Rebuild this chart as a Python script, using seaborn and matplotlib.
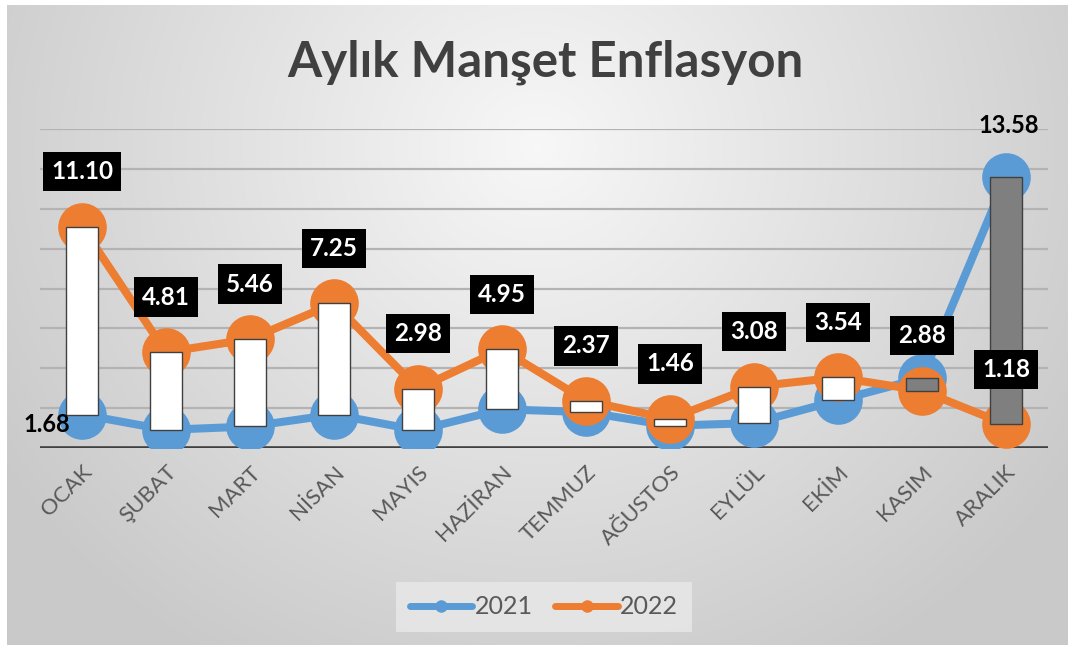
import numpy as np
import pandas as pd
import matplotlib
matplotlib.use("Agg")
import matplotlib.pyplot as plt
from matplotlib.lines import Line2D
import seaborn as sns

months = ["OCAK", "ŞUBAT", "MART", "NİSAN", "MAYIS", "HAZİRAN", "TEMMUZ",
          "AĞUSTOS", "EYLÜL", "EKİM", "KASIM", "ARALIK"]
infl_2021 = [1.68, 0.91, 1.08, 1.68, 0.89, 1.94, 1.80, 1.12, 1.25, 2.39, 3.51, 13.58]
infl_2022 = [11.10, 4.81, 5.46, 7.25, 2.98, 4.95, 2.37, 1.46, 3.08, 3.54, 2.88, 1.18]
years = ["2021", "2022"]
colors = {"2021": "#5B9BD5", "2022": "#ED7D31"}

sns.set_theme(style="white")
plt.rcParams["font.family"] = ["Lato", "DejaVu Sans"]

W, H = 1072, 649
fig = plt.figure(figsize=(W / 100, H / 100), dpi=100)
fig.patch.set_facecolor("white")

# background gradient panel
bx0, by0, bx1, by1 = 7, 5, 1068, 645
bg = fig.add_axes([bx0 / W, 1 - by1 / H, (bx1 - bx0) / W, (by1 - by0) / H])
gy, gx = np.mgrid[0:1:300j, 0:1:500j]
r = np.sqrt(((gx - 0.5) / 0.5) ** 2 + ((gy - 0.22) / 0.78) ** 2)
c = 0.97 - 0.15 * np.clip(r, 0, 1.2)
bg.imshow(np.dstack([c, c, c]), aspect="auto", extent=[0, 1, 1, 0], interpolation="bilinear")
bg.set_axis_off()

# main axes
px0, px1, py_top, py_bot = 40, 1048, 129, 448
ax = fig.add_axes([px0 / W, 1 - py_bot / H, (px1 - px0) / W, (py_bot - py_top) / H])
ax.set_facecolor("none")
ax.set_xlim(-0.5, 11.5)
ax.set_ylim(0, 16)

for gv in range(2, 17, 2):
    ax.axhline(gv, color="#b3b3b3", lw=1.6, zorder=1)
ax.axhline(0, color="#404040", lw=2.6, zorder=2)

df = pd.DataFrame({
    "month": list(range(12)) * 2,
    "value": infl_2021 + infl_2022,
    "year": ["2021"] * 12 + ["2022"] * 12,
})
sns.lineplot(data=df, x="month", y="value", hue="year", palette=colors,
             marker="o", markersize=35, markeredgewidth=0, linewidth=5.8,
             legend=False, ax=ax, zorder=3)

# up/down bars
lo = np.minimum(infl_2021, infl_2022)
hi = np.maximum(infl_2021, infl_2022)
bar_cols = ["white" if b > a else "#7f7f7f" for a, b in zip(infl_2021, infl_2022)]
ax.bar(range(12), hi - lo, bottom=lo, width=0.38, color=bar_cols,
       edgecolor="#404040", linewidth=1.0, zorder=5)

# labels for 2022
for i, v in enumerate(infl_2022):
    ax.annotate(f"{v:.2f}", (i, v), xytext=(0, 55), textcoords="offset pixels",
                ha="center", va="center", fontsize=17.5, fontweight="bold", color="white",
                bbox=dict(boxstyle="square,pad=0.34", fc="black", ec="none"),
                zorder=6, annotation_clip=False)
# labels for 2021 (first and last)
ax.annotate(f"{infl_2021[0]:.2f}", (0, infl_2021[0]), xytext=(-12, -10), textcoords="offset pixels",
            ha="right", va="center", fontsize=17, fontweight="bold", color="black",
            zorder=6, annotation_clip=False)
ax.annotate(f"{infl_2021[11]:.2f}", (11, infl_2021[11]), xytext=(3, 52), textcoords="offset pixels",
            ha="center", va="center", fontsize=17, fontweight="bold", color="black",
            zorder=6, annotation_clip=False)

ax.set_xticks(range(12))
ax.set_xticklabels(months, rotation=45, ha="right", rotation_mode="anchor",
                   fontsize=16, color="#595959")
ax.tick_params(axis="x", length=0, pad=10)
ax.set_yticks([])
ax.set_xlabel("")
ax.set_ylabel("")
for s in ax.spines.values():
    s.set_visible(False)

# title
fig.text(545 / W, 1 - 62 / H, "Aylık Manşet Enflasyon", ha="center", va="center",
         fontsize=35.5, fontweight="bold", color="#404040")

# legend
handles = [Line2D([0], [0], color=colors[y], lw=5, marker="o", markersize=9,
                  markeredgewidth=0, solid_capstyle="round") for y in years]
leg = fig.legend(handles, years, loc="center", bbox_to_anchor=(544 / W, 1 - 607 / H),
                 ncol=2, fontsize=18, frameon=True, fancybox=False,
                 handlelength=2.5, handletextpad=0.1, columnspacing=0.9,
                 borderpad=0.55)
leg.get_frame().set_facecolor("#e9e9e9")
leg.get_frame().set_edgecolor("none")
leg.get_frame().set_alpha(0.8)
for t in leg.get_texts():
    t.set_color("#595959")

fig.savefig("out.png", dpi=100)
